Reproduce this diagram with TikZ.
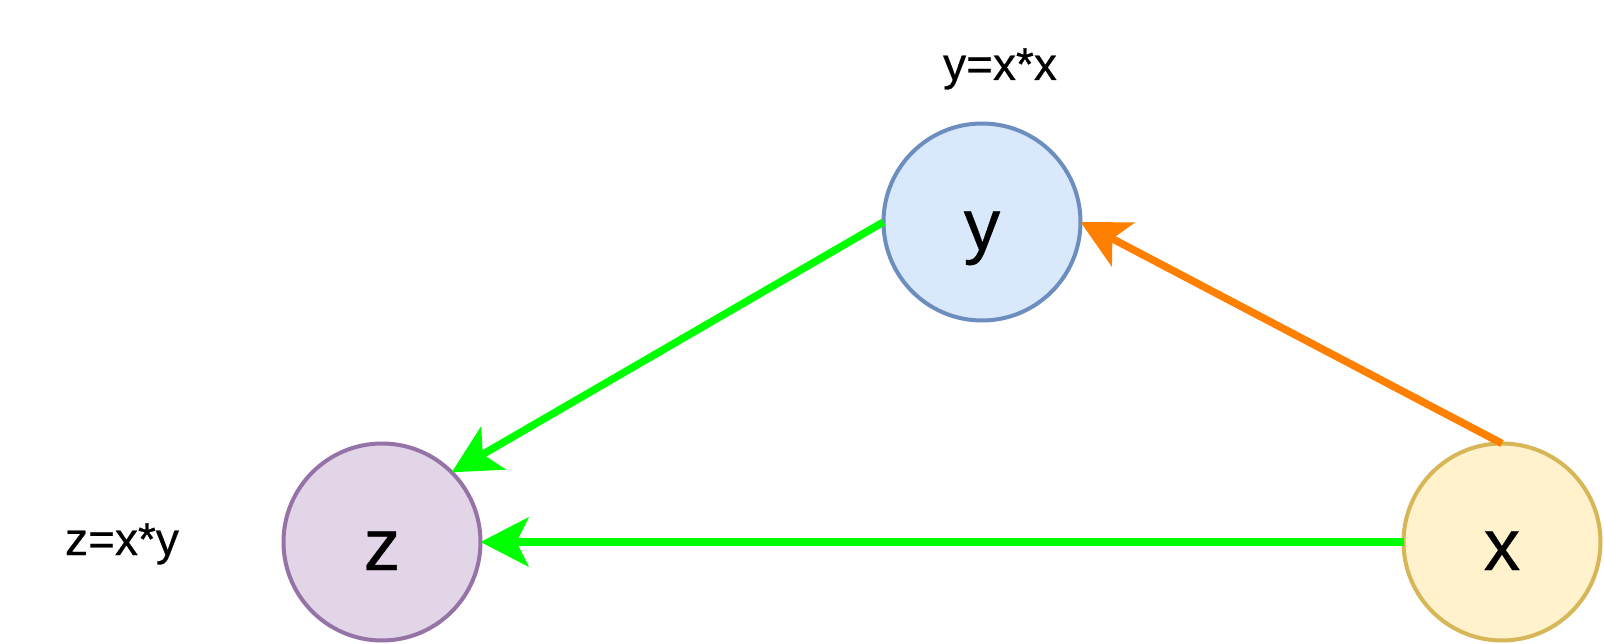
\documentclass[tikz,border=0pt]{standalone}
\usepackage{fontspec}
\setmainfont{Liberation Sans}[FakeBold=0.5]
\usetikzlibrary{arrows.meta}
\definecolor{yfill}{HTML}{DAE8FC}
\definecolor{ydraw}{HTML}{6C8EBF}
\definecolor{zfill}{HTML}{E1D5E7}
\definecolor{zdraw}{HTML}{9673A6}
\definecolor{xfill}{HTML}{FFF2CC}
\definecolor{xdraw}{HTML}{D6B656}
\definecolor{edgegreen}{HTML}{00FF00}
\definecolor{edgeorange}{HTML}{FF8000}
\tikzset{
  varnode/.style={circle, line width=4pt, minimum size=197pt, inner sep=0pt, outer sep=0pt,
    font=\fontsize{73}{88}\selectfont, text height=60pt, text depth=4pt, anchor=center},
  formula/.style={font=\fontsize{46}{55}\selectfont, inner sep=0pt, anchor=base},
  flow/.style={line width=7.5pt, -{Stealth[length=48pt, width=49pt, inset=12pt]}},
}
\begin{document}
\begin{tikzpicture}[x=1pt,y=-1pt]
\useasboundingbox (0,0) rectangle (1604,644);
\node[varnode, fill=yfill, draw=ydraw] (y) at (982,222) {y};
\node[varnode, fill=zfill, draw=zdraw] (z) at (382,542) {z};
\node[varnode, fill=xfill, draw=xdraw] (x) at (1502,542) {x};
\node[formula] (ly) at (1000,80) {y=x*x};
\node[formula] (lz) at (122,555) {z=x*y};
\draw[flow, draw=edgegreen, fill=edgegreen] (y.west) -- (z.45);
\draw[flow, draw=edgegreen, fill=edgegreen] (x.west) -- (z.east);
\draw[flow, draw=edgeorange, fill=edgeorange] (x.north) -- (y.east);
\end{tikzpicture}
\end{document}
